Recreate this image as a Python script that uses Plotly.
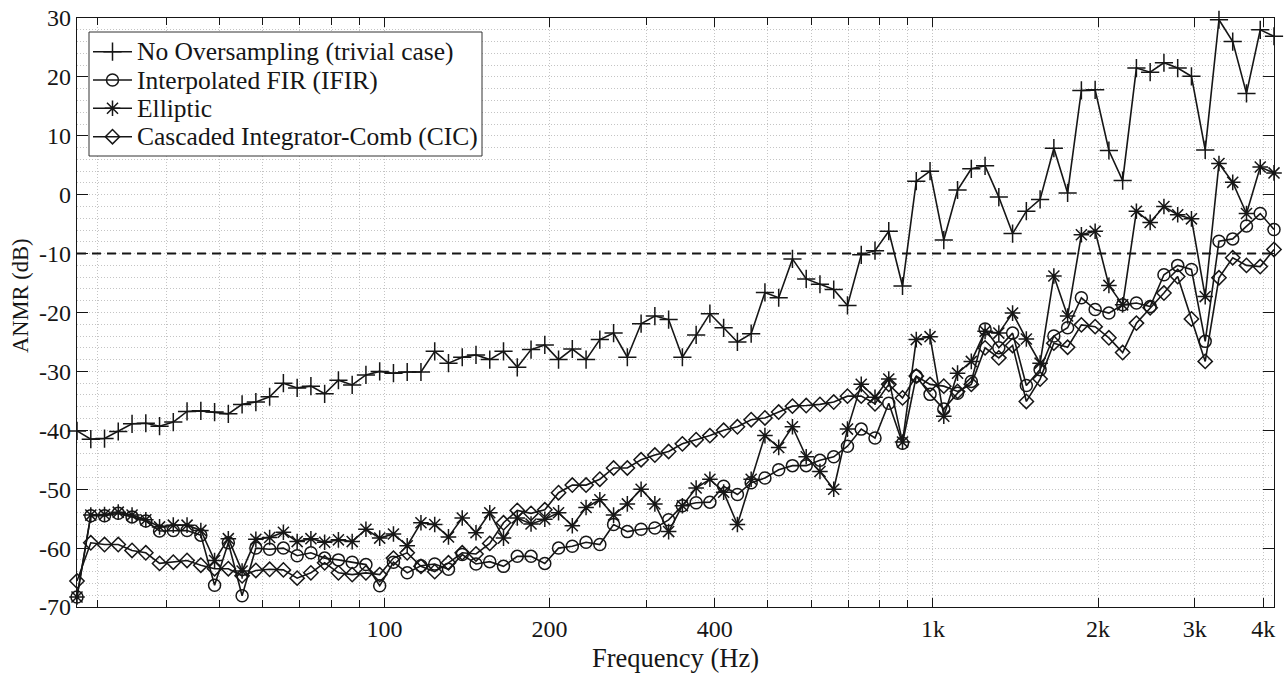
import numpy as np
import plotly.graph_objects as go

# ---------------- data ----------------
# test frequencies (Hz): the 88 piano-key pitches A0 ... C8
freq_hz = [
    27.50, 29.14, 30.87, 32.70, 34.65, 36.71, 38.89, 41.20, 43.65, 46.25,
    49.00, 51.91, 55.00, 58.27, 61.74, 65.41, 69.30, 73.42, 77.78, 82.41,
    87.31, 92.50, 98.00, 103.83, 110.00, 116.54, 123.47, 130.81, 138.59, 146.83,
    155.56, 164.81, 174.61, 185.00, 196.00, 207.65, 220.00, 233.08, 246.94, 261.63,
    277.18, 293.66, 311.13, 329.63, 349.23, 369.99, 392.00, 415.30, 440.00, 466.16,
    493.88, 523.25, 554.37, 587.33, 622.25, 659.26, 698.46, 739.99, 783.99, 830.61,
    880.00, 932.33, 987.77, 1046.50, 1108.73, 1174.66, 1244.51, 1318.51, 1396.91, 1479.98,
    1567.98, 1661.22, 1760.00, 1864.66, 1975.53, 2093.00, 2217.46, 2349.32, 2489.02, 2637.02,
    2793.83, 2959.96, 3135.96, 3322.44, 3520.00, 3729.31, 3951.07, 4186.01,
]

anmr_no_oversampling = [
    -40.1, -41.5, -41.4, -40.2, -38.9, -38.8, -39.3, -38.6, -36.8, -36.7,
    -36.9, -37.2, -35.6, -35.2, -34.3, -32.0, -32.8, -32.5, -33.8, -31.5,
    -32.3, -30.6, -30.0, -30.3, -30.1, -30.1, -26.6, -28.6, -27.6, -27.2,
    -28.0, -26.6, -29.3, -26.3, -25.5, -28.0, -26.2, -28.0, -24.6, -23.5,
    -27.6, -21.9, -20.6, -21.2, -27.6, -23.8, -20.2, -22.6, -25.0, -23.6,
    -16.6, -17.5, -10.9, -14.3, -15.2, -16.1, -18.8, -10.2, -9.5, -6.2,
    -15.5, 2.3, 4.0, -7.7, 0.8, 4.4, 4.9, -0.4, -6.6, -2.8,
    -0.8, 7.9, 0.3, 17.7, 17.8, 7.5, 2.4, 21.5, 20.8, 22.4,
    21.5, 20.1, 7.6, 29.7, 26.0, 17.2, 28.0, 26.9,
]

anmr_ifir = [
    -68.3, -54.5, -54.5, -54.1, -54.7, -55.4, -57.1, -57.0, -57.0, -57.8,
    -66.3, -59.1, -68.1, -60.0, -60.2, -60.0, -61.3, -60.8, -61.7, -62.0,
    -62.4, -62.8, -66.4, -62.4, -64.2, -63.0, -62.7, -63.6, -61.1, -62.7,
    -62.3, -63.1, -61.4, -61.4, -62.6, -60.0, -59.7, -59.0, -59.4, -56.0,
    -57.2, -56.8, -56.6, -55.2, -52.8, -52.3, -52.2, -49.5, -50.9, -48.9,
    -48.1, -46.7, -46.0, -46.0, -45.1, -44.5, -42.7, -39.8, -41.3, -35.4,
    -42.2, -30.8, -33.9, -36.4, -33.7, -31.7, -22.8, -26.0, -23.5, -32.4,
    -29.7, -24.0, -22.6, -17.5, -19.5, -20.1, -18.7, -18.4, -19.0, -13.6,
    -12.0, -12.7, -24.9, -7.9, -7.5, -5.3, -3.2, -5.9,
]

anmr_elliptic = [
    -68.3, -54.4, -54.3, -53.9, -54.4, -55.2, -56.4, -56.1, -56.1, -57.0,
    -62.1, -58.4, -63.9, -58.5, -58.2, -57.3, -58.9, -58.4, -59.0, -58.6,
    -58.9, -56.8, -58.3, -57.6, -59.6, -55.7, -56.0, -58.1, -54.9, -57.4,
    -54.0, -58.3, -54.9, -55.9, -55.1, -54.0, -56.2, -53.1, -51.8, -54.4,
    -52.5, -50.0, -52.5, -57.2, -52.8, -49.8, -48.3, -50.5, -56.0, -48.3,
    -40.9, -42.9, -39.4, -44.5, -47.0, -50.0, -39.8, -32.2, -34.4, -31.3,
    -42.0, -24.6, -24.1, -37.6, -30.3, -28.3, -23.2, -23.5, -20.1, -24.5,
    -28.6, -13.8, -20.6, -6.8, -6.2, -15.4, -18.7, -2.8, -4.7, -2.0,
    -3.4, -4.1, -17.3, 5.3, 2.1, -3.2, 4.7, 3.7,
]

anmr_cic = [
    -65.6, -59.1, -59.4, -59.4, -60.4, -60.8, -62.6, -62.4, -62.1, -62.9,
    -63.5, -63.5, -64.7, -63.8, -63.6, -63.7, -65.1, -64.2, -62.5, -64.2,
    -64.5, -64.2, -64.5, -61.7, -60.8, -63.1, -64.0, -62.5, -60.8, -61.0,
    -59.2, -55.7, -53.6, -54.1, -53.5, -50.6, -49.3, -49.3, -48.3, -46.4,
    -46.4, -45.0, -44.2, -43.6, -42.3, -41.6, -40.9, -40.0, -39.4, -38.2,
    -37.9, -36.9, -35.9, -35.8, -35.6, -35.2, -34.2, -34.2, -35.5, -32.2,
    -34.5, -30.8, -32.2, -32.5, -33.4, -32.2, -26.0, -27.7, -25.6, -35.1,
    -31.3, -25.2, -25.9, -22.1, -22.4, -24.3, -26.8, -21.8, -19.2, -16.7,
    -13.9, -21.1, -28.3, -14.1, -10.7, -12.0, -12.2, -9.3,
]

series_names = [
    "No Oversampling (trivial case)",
    "Interpolated FIR (IFIR)",
    "Elliptic",
    "Cascaded Integrator-Comb (CIC)",
]
series_values = [anmr_no_oversampling, anmr_ifir, anmr_elliptic, anmr_cic]

threshold_db = -10

x_tick_values = [100, 200, 400, 1000, 2000, 3000, 4000]
x_tick_labels = ["100", "200", "400", "1k", "2k", "3k", "4k"]
x_minor_values = [30, 40, 50, 60, 70, 80, 90, 300, 500, 600, 700, 800, 900]
y_tick_values = [-70, -60, -50, -40, -30, -20, -10, 0, 10, 20, 30]
y_tick_labels = ["-70", "-60", "-50", "-40", "-30", "-20", "-10", "0", "10", "20", "30"]

x_title = "Frequency (Hz)"
y_title = "ANMR (dB)"

# ---------------- styles ----------------
FONT = "Liberation Serif"
INK = "#161616"
GRID = "#c4c4c4"
symbols = ["cross-thin-open", "circle-open", "asterisk-open", "diamond-open"]
sizes = [13, 12, 13, 11]
LINE_W = 1.6
MARKER_LW = 1.5

# figure geometry (pixels)
W, H = 1288, 673
ML, MR, MT, MB = 77, 14, 18, 66

fig = go.Figure()

for name, vals, sym, sz in zip(series_names, series_values, symbols, sizes):
    fig.add_trace(go.Scatter(
        x=freq_hz, y=vals, name=name, mode="lines+markers",
        line=dict(color=INK, width=LINE_W),
        marker=dict(symbol=sym, size=sz, color=INK, line=dict(color=INK, width=MARKER_LW)),
        cliponaxis=False, showlegend=False,
    ))

# threshold line
fig.add_shape(type="line", xref="paper", x0=0, x1=1, yref="y", y0=threshold_db, y1=threshold_db,
              line=dict(color=INK, width=2, dash="9px,6px"), layer="above")

# ---------------- legend (drawn on a pixel-space overlay axis) ----------------
LEG_X0, LEG_X1, LEG_Y0, LEG_Y1 = 89, 482, 32, 156
LEG_ROWS = [51.7, 80.0, 108.3, 136.7]
LEG_LINE_X = [93, 112.5, 132]
LEG_TEXT_X = 135

fig.add_trace(go.Scatter(
    x=[LEG_X0, LEG_X1, LEG_X1, LEG_X0, LEG_X0],
    y=[LEG_Y0, LEG_Y0, LEG_Y1, LEG_Y1, LEG_Y0],
    mode="lines", fill="toself", fillcolor="white",
    line=dict(color="#333", width=1), xaxis="x2", yaxis="y2",
    hoverinfo="skip", showlegend=False,
))
for name, sym, sz, ry in zip(series_names, symbols, sizes, LEG_ROWS):
    fig.add_trace(go.Scatter(
        x=LEG_LINE_X, y=[ry] * 3, mode="lines+markers",
        line=dict(color=INK, width=LINE_W),
        marker=dict(symbol=sym, size=sz, color=INK, opacity=[0, 1, 0],
                    line=dict(color=INK, width=MARKER_LW)),
        xaxis="x2", yaxis="y2", hoverinfo="skip", showlegend=False,
    ))
    fig.add_annotation(x=LEG_TEXT_X, y=ry, xref="x2", yref="y2", text=name,
                       showarrow=False, xanchor="left", yanchor="middle",
                       font=dict(family=FONT, size=25.5, color=INK))

# y-axis title (placed as in the reference, slightly above the axis centre)
fig.add_annotation(x=(20 - ML) / (W - ML - MR), y=1 - (296 - MT) / (H - MT - MB),
                   xref="paper", yref="paper", text=y_title, textangle=-90,
                   showarrow=False, xanchor="center", yanchor="middle",
                   font=dict(family=FONT, size=22.5, color=INK))

# ---------------- axes ----------------
fig.update_layout(
    width=W, height=H,
    margin=dict(l=ML, r=MR, t=MT, b=MB, autoexpand=False),
    paper_bgcolor="white", plot_bgcolor="white",
    font=dict(family=FONT, size=24, color=INK),
    showlegend=False,
    xaxis=dict(
        type="log", automargin=False,
        range=[np.log10(freq_hz[0]), np.log10(freq_hz[-1])],
        tickmode="array", tickvals=x_tick_values, ticktext=x_tick_labels,
        ticks="inside", ticklen=9, tickwidth=1.2, tickcolor=INK,
        showline=True, linecolor=INK, linewidth=1.3, mirror="allticks",
        showgrid=True, gridcolor=GRID, griddash="1px,2px", gridwidth=1,
        zeroline=False,
        minor=dict(tickmode="array", tickvals=x_minor_values, ticks="inside", ticklen=7,
                   tickwidth=1.2, tickcolor=INK, showgrid=True, gridcolor=GRID,
                   griddash="1px,2px", gridwidth=1),
        tickfont=dict(family=FONT, size=24, color=INK),
        title=dict(text=x_title, font=dict(family=FONT, size=26.5, color=INK), standoff=11),
    ),
    yaxis=dict(
        automargin=False,
        range=[y_tick_values[0], y_tick_values[-1]],
        tickmode="array", tickvals=y_tick_values, ticktext=y_tick_labels,
        ticks="inside", ticklen=11, tickwidth=1.2, tickcolor=INK,
        showline=True, linecolor=INK, linewidth=1.3, mirror="allticks",
        showgrid=True, gridcolor=GRID, griddash="1px,2px", gridwidth=1,
        zeroline=False,
        minor=dict(dtick=2, ticks="", showgrid=True, gridcolor=GRID,
                   griddash="1px,2px", gridwidth=1),
        tickfont=dict(family=FONT, size=24, color=INK),
    ),
    xaxis2=dict(overlaying="x", anchor="y2", range=[ML, W - MR], visible=False,
                fixedrange=True, automargin=False),
    yaxis2=dict(overlaying="y", anchor="x2", range=[H - MB, MT], visible=False,
                fixedrange=True, automargin=False),
)

fig.write_html("out.html")
